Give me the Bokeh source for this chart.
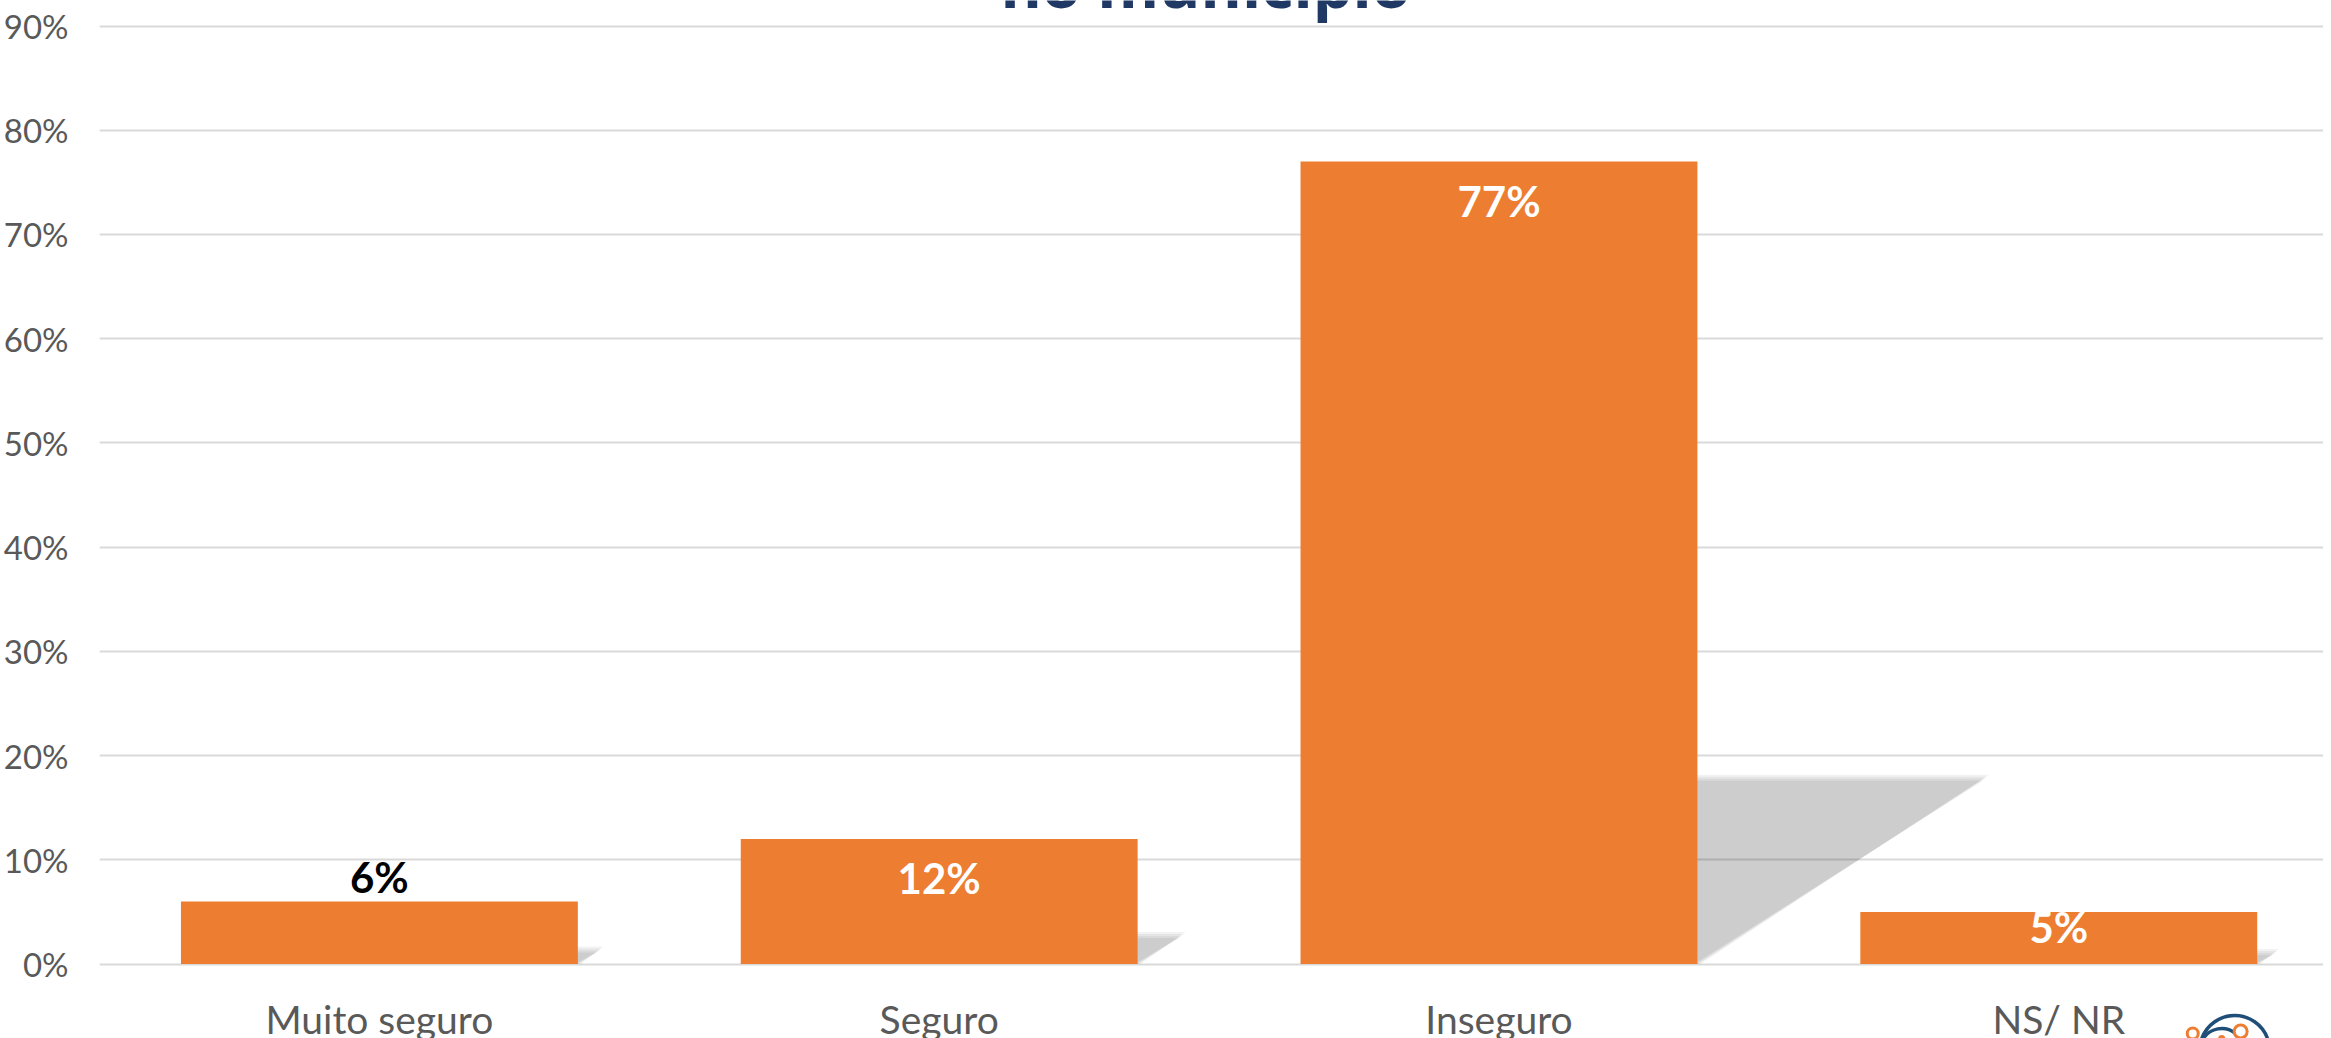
from bokeh.plotting import figure
from bokeh.models import Range1d, FixedTicker, ColumnDataSource
from bokeh.core.properties import value
from bokeh.embed import file_html
from bokeh.resources import INLINE

# ---------------- data ----------------
categories = ["Muito seguro", "Seguro", "Inseguro", "NS/ NR"]
values = [6, 12, 77, 5]                      # percent
value_labels = ["6%", "12%", "77%", "5%"]
label_inside = [False, True, True, True]
y_ticks = [0, 10, 20, 30, 40, 50, 60, 70, 80, 90]
y_tick_labels = ["0%", "10%", "20%", "30%", "40%", "50%", "60%", "70%", "80%", "90%"]
title_text = "no município"

# ---------------- layout ----------------
W, H = 2323, 1038
LEFT = 95
PAGE_X0, PAGE_Y0 = 5, 0              # where the figure sits on the page
PX_PER_CAT = 560.8
PX_PER_PCT = 10.422
ZERO_PX = 963.5                      # distance of 0% from figure top
x_start = -0.5
x_end = x_start + (W - LEFT) / PX_PER_CAT
y_end = ZERO_PX / PX_PER_PCT
y_start = -(H - ZERO_PX) / PX_PER_PCT

ORANGE = "#ED7D31"
GREY_TXT = "#595959"
BAR_W = 0.709

p = figure(width=W, height=H, x_range=Range1d(x_start, x_end),
           y_range=Range1d(y_start, y_end), output_backend="svg",
           toolbar_location=None, x_axis_location=None,
           min_border_left=LEFT, min_border_right=0,
           min_border_top=0, min_border_bottom=0)
p.outline_line_color = None
p.background_fill_color = "white"
p.border_fill_color = "white"
for g in p.xgrid:
    g.visible = False

ax = p.yaxis[0]
ax.ticker = FixedTicker(ticks=y_ticks)
ax.major_label_overrides = {t: s for t, s in zip(y_ticks, y_tick_labels)}
ax.axis_line_color = None
ax.major_tick_line_color = None
ax.minor_tick_line_color = None
ax.major_tick_out = 0
ax.major_tick_in = 0
ax.major_label_standoff = 31
ax.major_label_text_font = "Lato"
ax.major_label_text_font_size = "33px"
ax.major_label_text_color = GREY_TXT

yg = p.ygrid[0]
yg.ticker = FixedTicker(ticks=y_ticks)
yg.grid_line_color = "#D9D9D9"
yg.grid_line_width = 2

idx = list(range(len(categories)))

# ---------------- shadows (soft, semi-transparent) ----------------
SH_H = 0.232                      # shadow height relative to bar value
SH_SHIFT = 3.753 / PX_PER_CAT     # horizontal shift (x units) per percent
for d in [-3.0, -1.0, 1.0, 3.0]:
    dx = d / PX_PER_CAT
    dy = d / PX_PER_PCT
    xs, ys = [], []
    for i, v in zip(idx, values):
        xl = i - BAR_W / 2
        xr = i + BAR_W / 2
        hs = v * SH_H
        sh = v * SH_SHIFT
        xs.append([xl, xr + dx, xr + sh + dx, xl + sh])
        ys.append([0, 0, hs + dy, hs + dy])
    p.patches(xs, ys, fill_color="black", fill_alpha=0.052, line_color=None)

# ---------------- bars ----------------
src = ColumnDataSource(dict(x=idx, top=values, cat=categories))
p.vbar(x="x", top="top", width=BAR_W, bottom=0, source=src,
       fill_color=ORANGE, line_color=None)

# ---------------- value labels ----------------
BASE_FIX = 13     # compensation for how the svg text baseline lands
offs, cols = [], []
for v, inside in zip(values, label_inside):
    if inside:
        offs.append(min(52.0, v * PX_PER_PCT - 24.0) - BASE_FIX)
        cols.append("white")
    else:
        offs.append(-11.0 - BASE_FIX)
        cols.append("black")
lsrc = ColumnDataSource(dict(x=idx, y=values, t=value_labels, off=offs, c=cols))
p.text(x="x", y="y", text="t", y_offset="off", text_color="c", source=lsrc,
       text_align="center", text_baseline="alphabetic",
       text_font=value("Lato"), text_font_style="bold", text_font_size="42px")

# ---------------- category labels ----------------
p.text(x="x", y=0, text="cat", source=src, y_offset=55,
       text_align="center", text_baseline="alphabetic",
       text_font=value("Lato"), text_font_size="39px", text_color=GREY_TXT)

# ---------------- title (mostly cut off at top) ----------------
p.text(x=[1.476], y=[y_end], text=[title_text], text_align="center",
       text_baseline="alphabetic", y_offset=-17, text_font=value("Open Sans"),
       text_font_style="bold", text_font_size="63px", text_color="#1F3864")

# ---------------- small logo at bottom right (partially visible) ----------------
def X(px_page):
    return x_start + (px_page - PAGE_X0 - LEFT) / PX_PER_CAT

def Y(py_page):
    return (ZERO_PX - (py_page - PAGE_Y0)) / PX_PER_PCT

BLUE = "#1F4E79"
p.arc(x=[X(2239)], y=[Y(1050)], radius=35, radius_units="screen",
      start_angle=0.35, end_angle=2.8, line_color=BLUE, line_width=3.5)
p.arc(x=[X(2226)], y=[Y(1050)], radius=22, radius_units="screen",
      start_angle=0.9, end_angle=2.6, line_color=BLUE, line_width=3.5)
p.scatter(x=[X(2197), X(2245)], y=[Y(1033), Y(1031)], size=[11, 13],
          marker="circle", fill_color="white", line_color=ORANGE, line_width=3)
p.scatter(x=[X(2226)], y=[Y(1038)], size=7, marker="circle",
          fill_color=ORANGE, line_color=None)

open("out.html", "w").write(file_html(p, INLINE))
